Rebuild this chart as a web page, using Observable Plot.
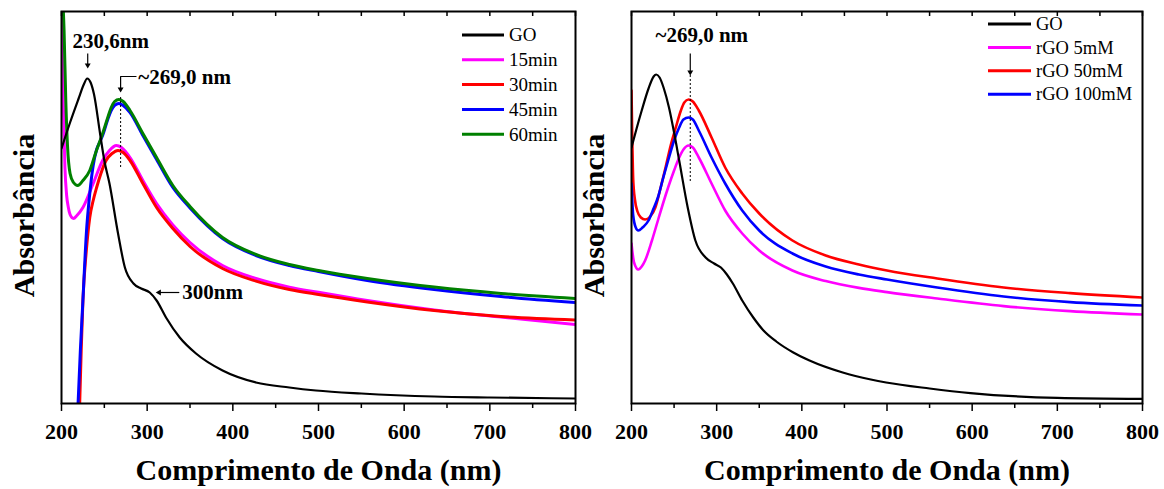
<!DOCTYPE html>
<html>
<head>
<meta charset="utf-8">
<script src="https://cdn.jsdelivr.net/npm/d3@7"></script>
<script src="https://cdn.jsdelivr.net/npm/@observablehq/plot@0.6"></script>
<style>
  body { margin: 0; background: #fff; }
  #fig { display: flex; width: 1164px; height: 489px; }
  #fig svg { flex: 0 0 auto; overflow: visible; }
</style>
</head>
<body>
<div id="fig"></div>
<script>
// UV-Vis spectra: [wavelength (nm), absorbance (a.u.)]

// Panel A: GO and reduction time series
const goA = [[200,1.275],[210,1.405],[220,1.525],[226,1.595],[230,1.625],[234,1.605],[238,1.545],[245,1.35],[250,1.215],[256,1.10],[266,0.85],[274,0.68],[284,0.60],[293,0.575],[303,0.555],[311,0.515],[322,0.43],[338,0.33],[357,0.25],[388,0.165],[427,0.105],[466,0.08],[497,0.065],[550,0.05],[635,0.035],[700,0.03],[800,0.025]];
const min15A = [[200,1.94],[201,1.73],[202,1.515],[204,1.18],[206,1.04],[208,0.98],[210,0.945],[214,0.925],[218,0.94],[225,0.98],[237,1.10],[248,1.215],[256,1.265],[264,1.29],[270,1.28],[280,1.23],[295,1.115],[311,1.0],[330,0.893],[350,0.805],[388,0.69],[427,0.625],[466,0.582],[500,0.556],[557,0.515],[635,0.468],[713,0.432],[800,0.395]];
const min30A = [[221,-0.035],[223,0.265],[225,0.515],[229,0.765],[233,0.93],[237,1.015],[241,1.08],[246,1.15],[252,1.215],[259,1.25],[266,1.265],[272,1.255],[280,1.215],[295,1.10],[311,0.98],[330,0.875],[350,0.785],[388,0.675],[427,0.612],[466,0.57],[500,0.545],[557,0.508],[635,0.465],[713,0.435],[800,0.418]];
const min45A = [[219,-0.035],[222,0.265],[225,0.515],[229,0.85],[233,1.05],[237,1.19],[241,1.27],[245,1.31],[248,1.34],[254,1.42],[258,1.465],[262,1.49],[267,1.50],[272,1.49],[280,1.455],[295,1.34],[311,1.22],[330,1.08],[350,0.978],[388,0.825],[427,0.74],[466,0.69],[500,0.66],[557,0.615],[635,0.57],[713,0.535],[800,0.505]];
const min60A = [[201,2.065],[203,1.865],[205,1.515],[207,1.29],[210,1.15],[214,1.105],[219,1.09],[225,1.115],[233,1.165],[240,1.255],[248,1.35],[254,1.43],[258,1.48],[262,1.51],[267,1.52],[272,1.51],[280,1.465],[295,1.35],[311,1.23],[330,1.09],[350,0.985],[388,0.83],[427,0.745],[466,0.695],[500,0.665],[557,0.625],[635,0.582],[713,0.55],[800,0.525]];

// Panel B: GO and reducing-agent concentration series
const goB = [[200,1.28],[206,1.375],[212,1.465],[220,1.575],[226,1.635],[229,1.645],[233,1.63],[238,1.575],[244,1.48],[250,1.355],[256,1.215],[266,0.98],[275,0.815],[287,0.73],[297,0.70],[305,0.68],[312,0.645],[319,0.60],[330,0.515],[343,0.43],[355,0.365],[370,0.31],[390,0.255],[409,0.215],[448,0.155],[481,0.12],[499,0.105],[550,0.075],[598,0.052],[700,0.028],[800,0.023]];
const mM5B = [[200,0.80],[203,0.705],[208,0.67],[212,0.685],[216,0.715],[224,0.815],[231,0.915],[237,1.0],[243,1.08],[250,1.165],[256,1.23],[261,1.27],[267,1.29],[272,1.28],[279,1.23],[294,1.10],[310,0.965],[330,0.85],[350,0.765],[389,0.665],[428,0.612],[467,0.578],[500,0.557],[559,0.525],[637,0.487],[715,0.462],[800,0.445]];
const mM50B = [[200,1.565],[201,1.30],[202,1.12],[204,1.02],[207,0.96],[211,0.93],[216,0.92],[222,0.935],[228,0.98],[234,1.075],[240,1.18],[246,1.29],[252,1.38],[258,1.465],[262,1.505],[267,1.52],[272,1.51],[279,1.465],[294,1.33],[310,1.18],[330,1.05],[350,0.95],[389,0.815],[428,0.74],[467,0.695],[500,0.665],[559,0.625],[637,0.58],[715,0.552],[800,0.53]];
const mM100B = [[200,1.10],[202,0.94],[205,0.88],[208,0.865],[213,0.88],[220,0.915],[225,0.965],[231,1.03],[237,1.125],[243,1.215],[250,1.315],[256,1.38],[261,1.42],[267,1.43],[272,1.42],[279,1.365],[294,1.23],[310,1.10],[330,0.965],[350,0.865],[389,0.75],[428,0.685],[467,0.645],[500,0.62],[559,0.58],[637,0.535],[715,0.507],[800,0.49]];

const namesA = ["GO", "15min", "30min", "45min", "60min"];
const namesB = ["GO", "rGO 5mM", "rGO 50mM", "rGO 100mM"];
const xTickLabels = [200, 300, 400, 500, 600, 700, 800];
const xMinorTicks = [250, 350, 450, 550, 650, 750];
const xTitle = "Comprimento de Onda (nm)";
const yTitle = "Absorbância";

// Peak / shoulder positions called out on the spectra (nm)
const goPeak = 230.6;
const rgoPeak = 269.0;
const goShoulder = 300;

// ---- layout & style ----
const W = 582, H = 489, MT = 11, MB = 86;
const innerH = H - MT - MB;
const serif = "'Liberation Serif', 'Times New Roman', serif";
const colorsA = ["#000000", "#ff00ff", "#ff0000", "#0000ff", "#008000"];
const colorsB = ["#000000", "#ff00ff", "#ff0000", "#0000ff"];

function arrowHead(nm, abs, dir) {
  // filled triangle with its tip on (nm, abs)
  const o = 3.4;
  const rot = dir === "down" ? 180 : -90;
  return Plot.dot([[nm, abs]], {
    x: d => d[0], y: d => d[1], symbol: "triangle", r: 2.2,
    fill: "#000", stroke: "none", rotate: rot,
    dx: dir === "left" ? o : 0, dy: dir === "down" ? -o : 0
  });
}

function panel({spectra, colors, order, widths, marginLeft, marginRight, annotations, legend}) {
  const allTicks = d3.range(200, 801, 50);
  const lines = order.map(i => Plot.line(spectra[i], {
    x: d => d[0], y: d => d[1], stroke: colors[i], strokeWidth: widths[i],
    curve: "monotone-x", clip: true
  }));
  const svg = Plot.plot({
    width: W, height: H,
    marginTop: MT, marginBottom: MB, marginLeft, marginRight,
    style: {fontFamily: serif, background: "none", color: "#000", overflow: "visible"},
    x: {domain: [200, 800]},
    y: {domain: [0, 1.96], axis: null},
    marks: [
      ...lines,
      ...annotations,
      Plot.axisX({ticks: xTickLabels, tickSize: 8, tickPadding: 12, strokeWidth: 1.5,
        fontSize: 22, fontWeight: "bold", label: null, tickFormat: d => String(d)}),
      Plot.tickX(xMinorTicks, {x: d => d, insetTop: innerH - 5, dy: 5, strokeWidth: 1.5}),
      Plot.tickX(allTicks, {x: d => d, insetBottom: innerH - 5, strokeWidth: 1.5}),
      Plot.text([xTitle], {frameAnchor: "bottom", lineAnchor: "middle", textAnchor: "middle",
        dy: 67, fontSize: 30, fontWeight: "bold"}),
      Plot.text([yTitle], {frameAnchor: "left", textAnchor: "middle", lineAnchor: "middle",
        dx: -37, dy: 8, rotate: -90, fontSize: 30, fontWeight: "bold"}),
      Plot.frame({stroke: "#000", strokeWidth: 2})
    ]
  });
  // line-swatch legend inside the frame
  const g = d3.select(svg).append("g")
    .attr("font-family", serif).attr("font-size", legend.fontSize)
    .attr("text-anchor", "start");
  legend.names.forEach((name, i) => {
    const y = legend.y0 + i * legend.step;
    g.append("line").attr("x1", legend.x1).attr("x2", legend.x2).attr("y1", y).attr("y2", y)
      .attr("stroke", colors[i]).attr("stroke-width", 3);
    g.append("text").attr("x", legend.x2 + 5).attr("y", y).attr("dy", "0.34em")
      .attr("fill", "#000").text(name);
  });
  return svg;
}

const annA = [
  Plot.text(["230,6nm"], {x: () => 212.9, y: () => 1.81, textAnchor: "start", fontSize: 21, fontWeight: "bold"}),
  Plot.link([0], {x1: goPeak, x2: goPeak, y1: 1.75, y2: 1.69, stroke: "#000", strokeWidth: 1.2}),
  arrowHead(goPeak, 1.675, "down"),
  Plot.text(["~269,0 nm"], {x: () => 289.7, y: () => 1.63, textAnchor: "start", fontSize: 21, fontWeight: "bold"}),
  Plot.line([[287, 1.635], [rgoPeak, 1.635], [rgoPeak, 1.57]], {x: d => d[0], y: d => d[1], stroke: "#000", strokeWidth: 1.2}),
  arrowHead(rgoPeak, 1.555, "down"),
  Plot.ruleX([rgoPeak], {y1: 1.53, y2: 1.175, stroke: "#000", strokeWidth: 1, strokeDasharray: "2,2"}),
  Plot.link([0], {x1: 337.5, x2: 314, y1: 0.555, y2: 0.555, stroke: "#000", strokeWidth: 1.2}),
  arrowHead(goShoulder + 10, 0.555, "left"),
  Plot.text(["300nm"], {x: () => 341, y: () => 0.555, textAnchor: "start", fontSize: 21, fontWeight: "bold"})
];

const annB = [
  Plot.text(["~269,0 nm"], {x: () => 228.2, y: () => 1.84, textAnchor: "start", fontSize: 21, fontWeight: "bold"}),
  Plot.link([0], {x1: rgoPeak, x2: rgoPeak, y1: 1.75, y2: 1.66, stroke: "#000", strokeWidth: 1.2}),
  arrowHead(rgoPeak, 1.64, "down"),
  Plot.ruleX([rgoPeak], {y1: 1.64, y2: 1.10, stroke: "#000", strokeWidth: 1, strokeDasharray: "2,2"})
];

const fig = document.getElementById("fig");
fig.append(panel({
  spectra: [goA, min15A, min30A, min45A, min60A],
  colors: colorsA, order: [1, 2, 3, 4, 0], widths: [2.2, 3, 3, 3, 3],
  marginLeft: 61, marginRight: 7, annotations: annA,
  legend: {names: namesA, x1: 462, x2: 504, y0: 35, step: 24.8, fontSize: 19}
}));
fig.append(panel({
  spectra: [goB, mM5B, mM50B, mM100B],
  colors: colorsB, order: [1, 2, 3, 0], widths: [2.2, 2.6, 2.6, 2.6],
  marginLeft: 49, marginRight: 22, annotations: annB,
  legend: {names: namesB, x1: 406, x2: 449, y0: 24, step: 23.4, fontSize: 18.5}
}));
</script>
</body>
</html>
